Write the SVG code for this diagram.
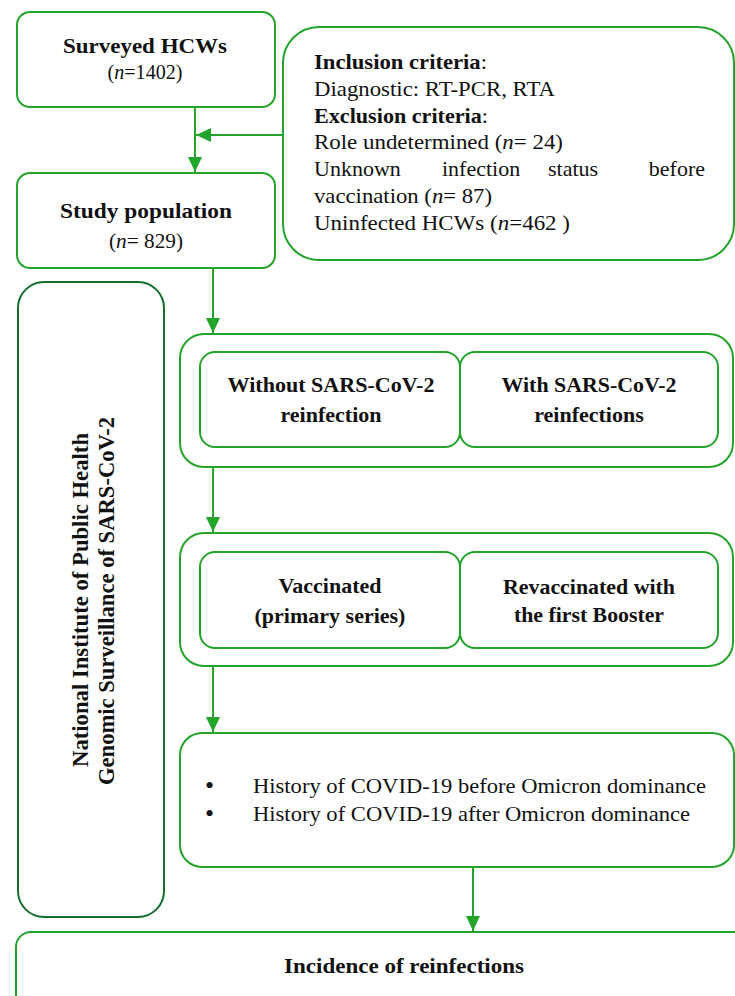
<svg xmlns="http://www.w3.org/2000/svg" width="735" height="996" viewBox="0 0 735 996">
<defs>
<style>
.box{fill:#fff;stroke:#22a52a;stroke-width:2}
.dark{fill:#fff;stroke:#146e2c;stroke-width:2}
.t{font-family:"Liberation Serif","Times New Roman",serif;font-size:22px;fill:#111}
.b{font-weight:bold}
.c{text-anchor:middle}
.e{text-anchor:end}
.conn{stroke:#22a52a;stroke-width:2;fill:none}
</style>
<marker id="ah" markerUnits="userSpaceOnUse" markerWidth="15" markerHeight="14" refX="15" refY="7" orient="auto">
<path d="M0,0 L15,7 L0,14 z" fill="#22a52a"/>
</marker>
</defs>
<rect width="735" height="996" fill="#fff"/>

<g id="surveyed">
<rect class="box" x="17" y="12" width="258" height="95" rx="13"/>
<text class="t b c" x="145" y="53" textLength="164" lengthAdjust="spacingAndGlyphs">Surveyed HCWs</text>
<text class="t c" x="145" y="79" textLength="75" lengthAdjust="spacingAndGlyphs">(<tspan font-style="italic">n</tspan>=1402)</text>
</g>

<g id="criteria">
<rect class="box" x="283" y="27" width="451" height="233" rx="36"/>
<text class="t" x="314" y="69" textLength="173" lengthAdjust="spacingAndGlyphs"><tspan class="b">Inclusion criteria</tspan>:</text>
<text class="t" x="314" y="96" textLength="241" lengthAdjust="spacingAndGlyphs">Diagnostic: RT-PCR, RTA</text>
<text class="t" x="314" y="123" textLength="174" lengthAdjust="spacingAndGlyphs"><tspan class="b">Exclusion criteria</tspan>:</text>
<text class="t" x="314" y="149" textLength="249" lengthAdjust="spacingAndGlyphs">Role undetermined (<tspan font-style="italic">n</tspan>= 24)</text>
<text class="t" x="314" y="176">Unknown</text>
<text class="t" x="442" y="176">infection</text>
<text class="t" x="548" y="176">status</text>
<text class="t e" x="705" y="176">before</text>
<text class="t" x="314" y="203" textLength="178" lengthAdjust="spacingAndGlyphs">vaccination (<tspan font-style="italic">n</tspan>= 87)</text>
<text class="t" x="314" y="230" textLength="256" lengthAdjust="spacingAndGlyphs">Uninfected HCWs (<tspan font-style="italic">n</tspan>=462 )</text>
</g>

<g id="study">
<rect class="box" x="17" y="173" width="258" height="95" rx="13"/>
<text class="t b c" x="146" y="218" textLength="172" lengthAdjust="spacingAndGlyphs">Study population</text>
<text class="t c" x="146" y="248" textLength="74" lengthAdjust="spacingAndGlyphs">(<tspan font-style="italic">n</tspan>= 829)</text>
</g>

<g id="niph">
<rect class="dark" x="18" y="282" width="146" height="635" rx="26"/>
<text class="t b c" style="font-size:23px" transform="translate(88,600) rotate(-90)" x="0" y="0" textLength="334" lengthAdjust="spacingAndGlyphs">National Institute of Public Health</text>
<text class="t b c" style="font-size:23px" transform="translate(114,601) rotate(-90)" x="0" y="0" textLength="368" lengthAdjust="spacingAndGlyphs">Genomic Surveillance of SARS-CoV-2</text>
</g>

<g id="reinfection">
<rect class="box" x="180" y="334" width="553" height="133" rx="24"/>
<rect class="box" x="200" y="352" width="260" height="95" rx="15"/>
<rect class="box" x="460" y="352" width="258" height="95" rx="15"/>
<text class="t b c" x="331" y="392" textLength="207" lengthAdjust="spacingAndGlyphs">Without SARS-CoV-2</text>
<text class="t b c" x="331" y="422">reinfection</text>
<text class="t b c" x="589" y="392" textLength="175" lengthAdjust="spacingAndGlyphs">With SARS-CoV-2</text>
<text class="t b c" x="589" y="422">reinfections</text>
</g>

<g id="vaccination">
<rect class="box" x="180" y="533" width="553" height="133" rx="24"/>
<rect class="box" x="200" y="552" width="260" height="96" rx="15"/>
<rect class="box" x="460" y="552" width="258" height="96" rx="15"/>
<text class="t b c" x="330" y="593">Vaccinated</text>
<text class="t b c" x="330" y="623">(primary series)</text>
<text class="t b c" x="589" y="594" textLength="172" lengthAdjust="spacingAndGlyphs">Revaccinated with</text>
<text class="t b c" x="589" y="622" textLength="150" lengthAdjust="spacingAndGlyphs">the first Booster</text>
</g>

<g id="history">
<rect class="box" x="180" y="733" width="554" height="134" rx="22"/>
<text class="t" x="205" y="794" style="font-size:26px">•</text>
<text class="t" x="253" y="793" textLength="453" lengthAdjust="spacingAndGlyphs">History of COVID-19 before Omicron dominance</text>
<text class="t" x="205" y="822" style="font-size:26px">•</text>
<text class="t" x="253" y="821" textLength="437" lengthAdjust="spacingAndGlyphs">History of COVID-19 after Omicron dominance</text>
</g>

<g id="incidence">
<rect class="box" x="16" y="932" width="740" height="80" rx="15"/>
<text class="t b c" x="404" y="973" textLength="240" lengthAdjust="spacingAndGlyphs">Incidence of reinfections</text>
</g>

<g id="connectors">
<line class="conn" x1="195" y1="107" x2="195" y2="172" marker-end="url(#ah)"/>
<line class="conn" x1="283" y1="135" x2="196" y2="135" marker-end="url(#ah)"/>
<line class="conn" x1="213" y1="268" x2="213" y2="333" marker-end="url(#ah)"/>
<line class="conn" x1="213" y1="467" x2="213" y2="532" marker-end="url(#ah)"/>
<line class="conn" x1="213" y1="666" x2="213" y2="732" marker-end="url(#ah)"/>
<line class="conn" x1="473" y1="867" x2="473" y2="931" marker-end="url(#ah)"/>
</g>
</svg>
